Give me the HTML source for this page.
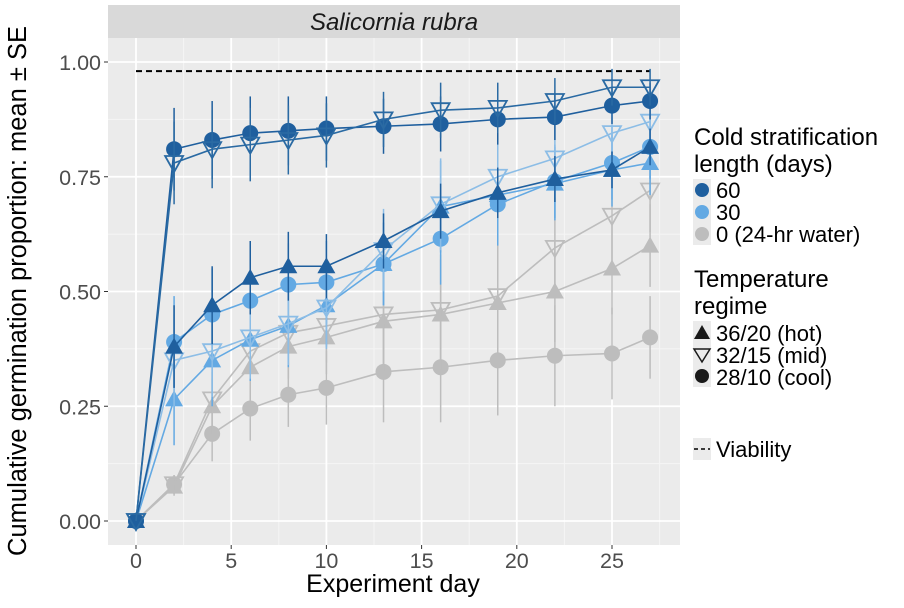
<!DOCTYPE html>
<html><head><meta charset="utf-8"><style>
body{margin:0;background:#fff;width:904px;height:603px;overflow:hidden;font-family:"Liberation Sans",Arial,sans-serif}
svg text{font-family:"Liberation Sans",Arial,sans-serif}
</style></head><body>
<svg id="chart" width="904" height="603" xmlns="http://www.w3.org/2000/svg">
<rect x="108" y="5" width="572" height="33" fill="#d9d9d9"/>
<text x="394" y="30" font-size="24" font-style="italic" text-anchor="middle" fill="#1a1a1a">Salicornia rubra</text>
<rect x="108" y="38" width="572" height="507" fill="#ebebeb"/>
<g id="grid"></g><g id="marks"></g><g id="axes"></g>
<text x="393" y="592" font-size="25" text-anchor="middle" fill="#000">Experiment day</text>
<text transform="translate(26,291) rotate(-90)" font-size="25.5" text-anchor="middle" fill="#000">Cumulative germination proportion: mean ± SE</text>
<g font-size="24" fill="#000">
<text x="694" y="145">Cold stratification</text>
<text x="694" y="172">length (days)</text>
<rect x="693" y="179" width="18" height="66" fill="#ebebeb"/>
<circle cx="702" cy="190" r="7" fill="#1f5f9e"/><text x="716" y="198" font-size="22">60</text>
<circle cx="702" cy="212" r="7" fill="#63a9e3"/><text x="716" y="220" font-size="22">30</text>
<circle cx="702" cy="234" r="7" fill="#bdbdbd"/><text x="716" y="242" font-size="22">0 (24-hr water)</text>
<text x="694" y="287">Temperature</text>
<text x="694" y="314">regime</text>
<rect x="693" y="321" width="18" height="66" fill="#ebebeb"/>
<polygon points="694,339 710,339 702,325" fill="#1a1a1a"/><text x="716" y="341" font-size="22">36/20 (hot)</text>
<polygon points="694,349 710,349 702,362" fill="none" stroke="#1a1a1a" stroke-width="1.5"/><text x="716" y="363" font-size="22">32/15 (mid)</text>
<circle cx="702" cy="376" r="7" fill="#1a1a1a"/><text x="716" y="385" font-size="22">28/10 (cool)</text>
<rect x="693" y="438" width="18" height="22" fill="#ebebeb"/>
<line x1="694" y1="449" x2="710" y2="449" stroke="#000" stroke-width="1.5" stroke-dasharray="4,3"/>
<text x="716" y="457" font-size="22">Viability</text>
</g>
</svg>
<script>
const days=[0,2,4,6,8,10,13,16,19,22,25,27];
const s60cool=[0,.81,.83,.845,.85,.855,.86,.865,.875,.88,.905,.915];
const s60mid=[0,.78,.81,.82,.83,.84,.875,.895,.90,.915,.945,.945];
const s60hot=[0,.38,.47,.53,.555,.555,.61,.675,.715,.745,.765,.815];
const s30cool=[0,.39,.45,.48,.515,.52,.56,.615,.69,.74,.78,.815];
const s30mid=[0,.35,.37,.40,.43,.465,.59,.69,.75,.79,.845,.87];
const s30hot=[0,.265,.35,.395,.425,.47,.56,.685,.71,.735,.765,.78];
const s0cool=[0,.08,.19,.245,.275,.29,.325,.335,.35,.36,.365,.40];
const s0mid=[0,.08,.265,.37,.41,.425,.45,.46,.49,.595,.665,.72];
const s0hot=[0,.075,.25,.335,.38,.40,.435,.45,.475,.50,.55,.60];
const seDark=[0,.09,.085,.08,.075,.07,.06,.06,.055,.05,.04,.04];
const seMid=[0,.1,.1,.09,.09,.09,.09,.1,.09,.08,.08,.07];
const seGrey=[0,.02,.06,.07,.07,.08,.11,.12,.12,.11,.1,.09];
const viability=0.98;
const xTicks=[0,5,10,15,20,25];
const yTicks=[0,0.25,0.5,0.75,1];
const yLabels=["0.00","0.25","0.50","0.75","1.00"];
const X=d=>136+d*19.04, Y=v=>521-v*459;
const NS="http://www.w3.org/2000/svg";
function mk(p,tag,at){const e=document.createElementNS(NS,tag);for(const k in at)e.setAttribute(k,at[k]);p.appendChild(e);return e;}
const grid=document.getElementById('grid'),marks=document.getElementById('marks'),axes=document.getElementById('axes');
for(let i=0;i<yTicks.length-1;i++){const v=(yTicks[i]+yTicks[i+1])/2;const l=mk(grid,'line',{x1:108,x2:680,y1:Y(v),y2:Y(v),stroke:'#f5f5f5','stroke-width':1});
}
for(let i=0;i<xTicks.length;i++){const v=xTicks[i]+2.5;const l=mk(grid,'line',{x1:X(v),x2:X(v),y1:38,y2:545,stroke:'#f5f5f5','stroke-width':1});
}
yTicks.forEach((v,i)=>{const l=mk(grid,'line',{x1:108,x2:680,y1:Y(v),y2:Y(v),stroke:'#fff','stroke-width':1.8});

const t=mk(axes,'line',{x1:104,x2:108,y1:Y(v),y2:Y(v),stroke:'#333'});

const tx=mk(axes,'text',{x:101,y:Y(v)+8,'font-size':21.5,'text-anchor':'end',fill:'#4d4d4d'});tx.textContent=yLabels[i];
});
xTicks.forEach(v=>{const l=mk(grid,'line',{x1:X(v),x2:X(v),y1:38,y2:545,stroke:'#fff','stroke-width':1.8});

const t=mk(axes,'line',{x1:X(v),x2:X(v),y1:545,y2:549,stroke:'#333'});

const tx=mk(axes,'text',{x:X(v),y:568,'font-size':21.5,'text-anchor':'middle',fill:'#4d4d4d'});tx.textContent=v;
});
const vl=mk(marks,'line',{x1:X(days[0]),x2:X(days[days.length-1]),y1:Y(viability),y2:Y(viability),stroke:'#000','stroke-width':2,'stroke-dasharray':'6,4'});

const series=[
 [s0cool,seGrey,'#bdbdbd','cool','grey-cool'],[s0hot,seGrey,'#bdbdbd','hot','grey-hot'],[s0mid,seGrey,'#bdbdbd','mid','grey-mid'],
 [s30cool,seMid,'#63a9e3','cool','30-cool'],[s30hot,seMid,'#63a9e3','hot','30-hot'],[s30mid,seMid,'#8cbde6','mid','30-mid'],
 [s60hot,seDark,'#1f5f9e','hot','60-hot'],[s60cool,seDark,'#1f5f9e','cool','60-cool'],[s60mid,seDark,'#2a6aa3','mid','60-mid']];
series.forEach(([vals,se,col,shape,name])=>{
 const g=mk(marks,'g',{});
 vals.forEach((v,i)=>{if(se[i]>0){const e=mk(g,'line',{x1:X(days[i]),x2:X(days[i]),y1:Y(v-se[i]),y2:Y(v+se[i]),stroke:col,'stroke-width':1.5});
  }});
 const pl=mk(g,'polyline',{points:vals.map((v,i)=>X(days[i])+','+Y(v)).join(' '),fill:'none',stroke:col,'stroke-width':1.6});
 
 vals.forEach((v,i)=>{const x=X(days[i]),y=Y(v);let m;
  if(shape==='cool')m=mk(g,'circle',{cx:x,cy:y,r:8,fill:col});
  else if(shape==='hot')m=mk(g,'polygon',{points:`${x-9},${y+7} ${x+9},${y+7} ${x},${y-9}`,fill:col});
  else m=mk(g,'polygon',{points:`${x-9},${y-7} ${x+9},${y-7} ${x},${y+9}`,fill:'none',stroke:col,'stroke-width':1.8});
  });
});
</script>
</body></html>
